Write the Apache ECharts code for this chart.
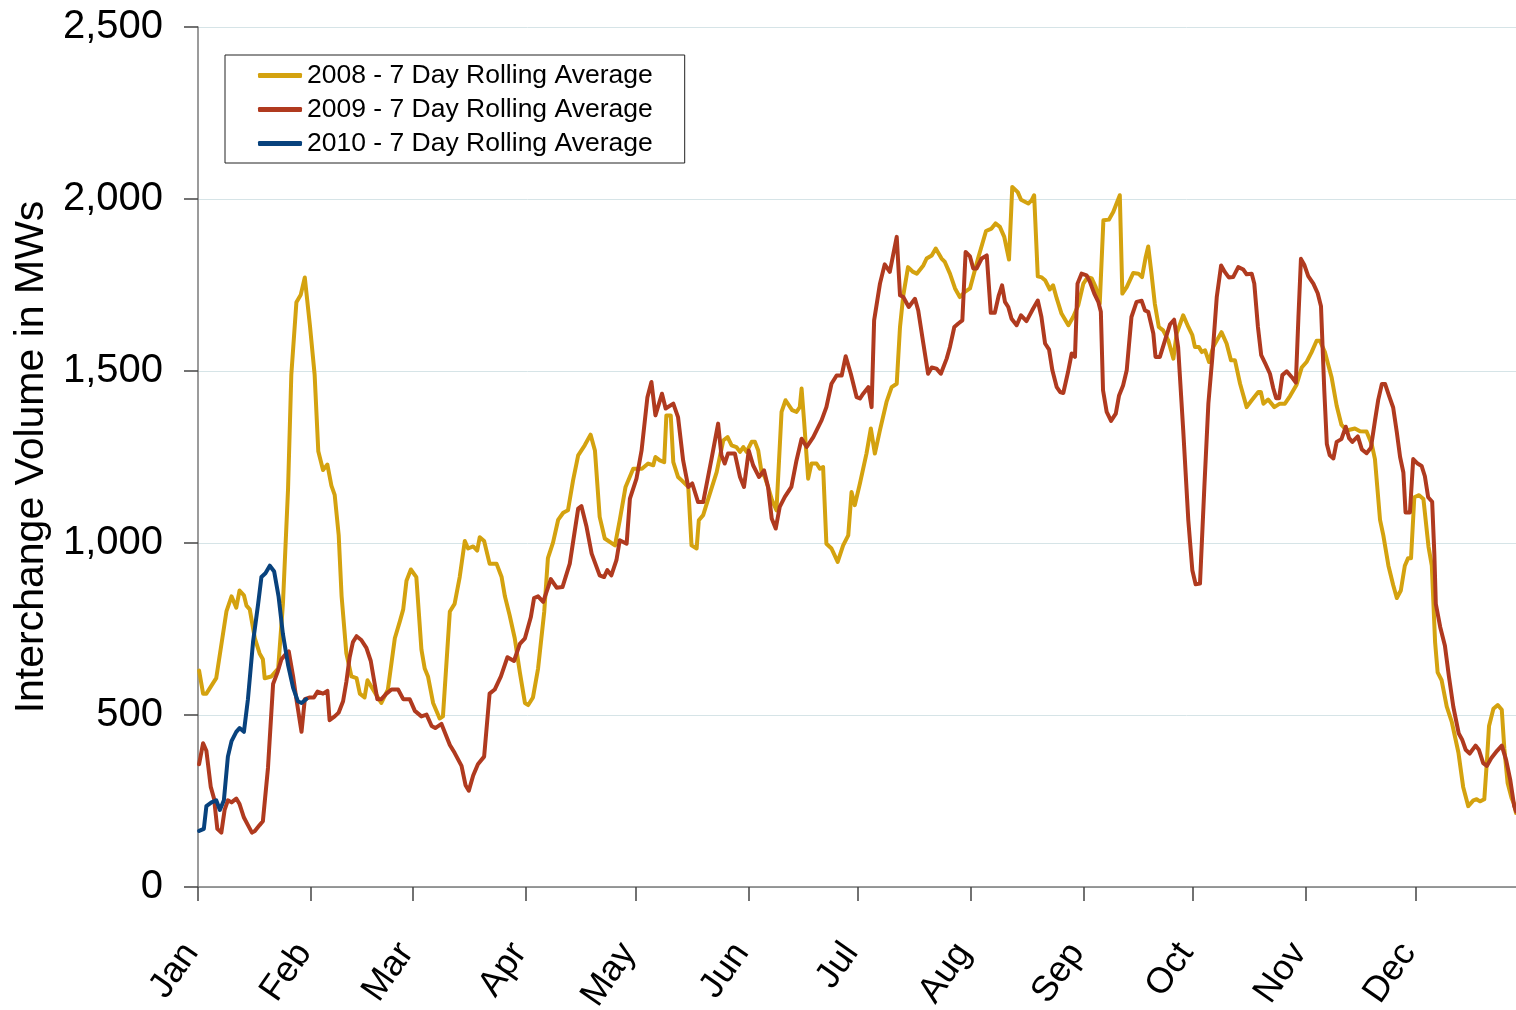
<!DOCTYPE html>
<html>
<head>
<meta charset="utf-8" />
<title>Interchange Volume</title>
<script src="https://cdn.jsdelivr.net/npm/echarts@6/dist/echarts.min.js"></script>
<style>
  html, body { margin: 0; padding: 0; background: #fff; }
  #chart { width: 1516px; height: 1010px; }
</style>
</head>
<body>
<div id="chart"></div>
<script>
// month labels and the day of year each month starts on
var months = ['Jan','Feb','Mar','Apr','May','Jun','Jul','Aug','Sep','Oct','Nov','Dec'];
var monthStart = [0, 31, 59, 90, 120, 151, 181, 212, 243, 273, 304, 334];
var yTicks = [0, 500, 1000, 1500, 2000, 2500];

// 2008 - day of year / MW
var days2008 = [0.3,1.4,2.3,5,7.8,9.2,10.5,11.4,12.6,13.3,14.2,15.6,16.9,17.8,18.3,20.1,22,23.3,24.7,25.6,27,28.2,29.3,30.7,32,33,34.3,35.5,36.6,37.5,38.6,39.4,40.7,42.1,43.5,44.4,45.7,46.5,47.4,49,50.3,52.1,54,55.4,56.3,57.2,58.4,59.9,61.3,62.2,63.1,64.5,66.3,67.2,69.1,70.4,71.8,73.2,74.1,75.5,76.6,77.3,78.5,80,81.9,83.3,84.2,85.5,86.9,88.3,89.7,90.6,91.9,93.3,95,96,97.4,98.8,100.2,101.5,102.9,104.3,106.1,107.7,108.9,110.2,111.6,114.4,115.7,117.3,119.4,121.8,123.5,124.9,125.5,126.7,127.9,128.5,129.7,130.4,131.7,132.7,134.5,135.4,136.8,137.4,138.6,140,142.3,144.1,145.3,146.4,147.7,148.7,149.6,150.5,151.9,152.8,153.7,154.6,155.5,156.4,157.5,158.7,160.1,161.2,163,164.2,165.1,165.6,166.3,167.4,168.3,169.7,170.6,171.5,172.4,173.8,175.5,177,178.4,179.3,180.2,181.6,183.4,184.6,185.7,187.1,188.9,190.3,191.7,192.6,193.5,194.8,196.2,197.2,199,199.9,201.3,202.4,204,204.9,206.3,207.7,209,210.4,211.8,214,216.2,217.7,218.8,220,221.2,222.5,223.4,224.9,225.8,227.8,228.7,229.4,230.4,231.5,232.4,233.7,234.6,235.6,236.9,238.8,240.1,241.5,242.9,244.1,245.2,246.3,247.4,248.4,249.9,251.1,252.9,253.6,254.8,256.6,258,259,260,260.7,261.6,262.5,263.6,264.8,266.2,267.6,268.5,270.3,271.7,272.8,273.5,274.6,275.4,276.3,277.4,278.5,280.8,282.2,283.4,284.5,285.9,287.7,289.1,290.9,291.6,292.3,293.6,295.3,296.8,298.2,299.6,301.4,302.8,304.2,305.5,306.9,307.8,309.2,311,312.4,313.7,315.1,317.4,318.8,320.6,322,322.9,324.3,325.2,326.6,327.9,328.9,330,331.1,332,332.8,333.7,335,336.2,337.6,338.5,339.4,340.1,341.2,342.6,344,345.8,347.1,348.5,349.9,350.8,351.7,352.9,353.6,354.2,355.4,356.6,357.7,358.4,359.3,360.4,361.1,361.6];
var mw2008 = [629,562,562,607,801,845,812,862,848,818,807,723,679,662,607,612,635,823,1156,1489,1700,1722,1772,1633,1489,1267,1212,1228,1167,1140,1023,845,679,612,607,562,551,601,585,557,535,574,723,773,807,890,923,901,690,635,612,535,490,496,801,823,901,1006,984,990,978,1017,1006,940,940,901,845,790,723,624,535,529,551,635,801,956,1001,1067,1088,1095,1182,1255,1284,1315,1269,1076,1013,993,1066,1163,1216,1216,1231,1226,1250,1240,1235,1371,1371,1235,1192,1182,1163,993,984,1066,1081,1129,1206,1298,1308,1284,1279,1265,1279,1265,1294,1294,1269,1206,1192,1163,1124,1095,1381,1415,1386,1381,1395,1449,1352,1187,1231,1231,1216,1221,998,984,945,993,1022,1148,1110,1173,1260,1333,1260,1328,1410,1453,1463,1628,1720,1802,1788,1783,1807,1827,1836,1856,1827,1817,1783,1740,1715,1730,1740,1827,1907,1914,1929,1919,1890,1824,2035,2020,1998,1987,1996,2011,1775,1772,1764,1737,1749,1711,1667,1633,1657,1691,1754,1773,1769,1744,1696,1938,1940,1962,2011,1725,1744,1785,1783,1773,1831,1862,1783,1696,1628,1618,1589,1536,1609,1662,1628,1604,1570,1570,1555,1560,1526,1570,1613,1580,1531,1531,1463,1395,1415,1439,1439,1405,1417,1395,1405,1405,1427,1460,1510,1527,1554,1588,1588,1554,1482,1399,1344,1327,1333,1325,1324,1288,1244,1067,1022,934,878,840,862,934,956,956,1133,1139,1128,989,934,712,624,601,524,479,391,291,235,252,255,249,255,363,468,518,529,515,402,302,258,241,215];

// 2009
var days2009 = [0.3,1.4,2.3,3.5,4.4,5.3,6.4,7.3,8.2,9.2,10.5,11.4,12.6,13.7,14.8,15.6,16.9,17.8,19.2,20.6,21.8,22.9,23.8,24.9,26.1,27,28.4,29.3,30.7,31.8,32.8,34.3,35.5,36.1,37.5,38.6,39.8,40.7,41.6,42.5,43.5,44.8,46.2,47.4,48.3,49.2,50.3,51.7,53.1,54.9,56.3,58.1,59.5,61.3,62.7,64.1,65.1,66.8,69.1,70.4,72.3,73.4,74.3,75.5,76.8,78.5,80,81.4,83.1,84.9,86.7,88.3,89.7,91.3,92.2,93.3,94.7,96.8,98.4,100,102,104.3,105.2,106.6,108,110.2,111.4,112.3,113.4,114.8,115.7,117.6,118.5,120.3,121.7,123.3,124.4,125.5,127.3,128.3,130.4,131.7,133.1,134.5,135.6,137.2,138.6,140.9,142.7,143.6,144.5,145.4,147.3,148.7,149.8,151.1,152.3,153.9,155.3,156.4,157.4,158.5,159.6,161,162.8,164.2,165.6,167,168.8,171.1,172.4,173.8,175.2,176.6,177.7,179.1,180.7,181.6,182.5,183.9,184.8,185.5,187.1,188.4,189.8,191.7,192.6,193.5,195,196.7,197.6,199,200.3,201.3,202.6,203.8,205.4,206.3,207.5,208.6,209.7,210.6,211.8,212.7,213.6,215,216.4,217.5,218.6,219.7,220.6,221.4,222.3,223.2,224.6,225.8,227.3,229.1,230.4,231.4,232.4,233.5,234.4,235.6,236.5,237.4,238.7,239.7,240.6,241.3,242.4,243.8,244.7,245.9,247,247.7,248.3,249.3,250.5,251.8,252.7,253.8,254.8,256.1,257.5,258.9,259.8,260.7,262.1,262.7,263.9,265.3,266.7,267.8,268.9,270.3,271.7,272.8,273.7,274.9,276.1,277.2,278.3,279.5,280.7,281.7,282.8,284,285.4,286.8,287.7,289.1,289.8,290.8,291.7,292.8,294.1,295,295.8,296.6,297.5,298.7,300.1,301.2,301.9,302.6,303.5,304.6,306,307.2,308.1,309,309.7,310.5,311.5,312.4,313.7,314.9,315.8,316.7,318.2,319.3,320.6,321.8,322.9,323.8,324.8,325.7,326.8,327.9,328.9,329.8,330.7,331.3,332.5,333.4,334.6,335.7,336.6,337.5,338.6,339.2,339.6,340.8,342.1,343.2,344.4,345.9,346.8,347.8,348.9,350.5,351.4,352.6,353.6,354.8,356.4,357.7,358.9,360,361.1,361.6];
var mw2009 = [357,418,396,291,257,169,158,224,252,246,257,241,202,180,158,163,180,191,346,590,624,662,674,685,612,546,451,546,551,551,568,562,570,485,496,507,540,596,668,712,729,718,695,657,601,546,546,562,574,574,546,546,512,496,501,468,462,474,413,390,352,296,280,324,357,379,562,574,612,668,657,707,723,784,840,845,829,895,870,872,940,1100,1107,1047,969,906,901,921,906,950,1008,998,1129,1187,1269,1424,1468,1371,1434,1391,1405,1366,1240,1163,1173,1119,1119,1245,1347,1255,1231,1260,1260,1192,1163,1269,1226,1192,1211,1163,1071,1042,1105,1134,1163,1240,1303,1279,1308,1357,1395,1463,1487,1487,1543,1492,1424,1420,1434,1453,1395,1647,1754,1810,1788,1890,1720,1715,1686,1710,1676,1580,1492,1510,1507,1492,1536,1570,1628,1638,1647,1846,1833,1798,1798,1827,1836,1669,1669,1720,1749,1701,1686,1652,1633,1662,1645,1681,1705,1657,1580,1562,1502,1453,1439,1436,1497,1551,1541,1754,1783,1778,1759,1725,1701,1672,1444,1381,1355,1376,1429,1458,1502,1657,1701,1704,1676,1672,1609,1541,1541,1589,1636,1649,1570,1328,1066,921,880,882,1163,1405,1541,1715,1807,1788,1772,1773,1802,1795,1781,1783,1754,1628,1546,1522,1492,1450,1421,1421,1488,1499,1482,1466,1654,1826,1809,1776,1754,1726,1688,1444,1288,1255,1246,1294,1302,1338,1305,1294,1310,1272,1261,1277,1355,1416,1462,1462,1427,1394,1322,1250,1205,1089,1089,1244,1231,1224,1194,1133,1120,967,823,756,701,612,524,446,429,399,388,411,399,360,352,374,396,411,369,313,235,220];

// 2010 (January only)
var days2010 = [0.3,1.6,2.3,3.7,5,6,7.1,8.2,9.2,10.5,11.4,12.6,13.7,15.1,16.5,17.4,18.5,19.7,20.9,22.1,23.3,24.7,26.1,27.4,28.4,29.7];
var mw2010 = [163,169,235,246,252,224,252,379,424,451,462,451,546,712,823,901,912,934,917,845,735,646,579,540,535,546];

function pairs(d, v) {
  return d.map(function (x, i) { return [x, v[i]]; });
}

var font = 'Liberation Sans, Arial, Helvetica, sans-serif';
var chart = echarts.init(document.getElementById('chart'));

function lineSeries(name, data, color) {
  return {
    name: name,
    type: 'line',
    data: data,
    symbol: 'none',
    clip: true,
    lineStyle: { color: color, width: 4, cap: 'round', join: 'round' },
    itemStyle: { color: color }
  };
}

option = {
  animation: false,
  backgroundColor: '#fff',
  textStyle: { fontFamily: font },
  grid: { left: 198, right: 0, top: 27, bottom: 123, outerBoundsMode: 'none' },
  legend: {
    orient: 'vertical',
    left: 225,
    top: 55,
    padding: [7, 32, 6, 33],
    itemGap: 7,
    itemWidth: 44,
    itemHeight: 5,
    icon: 'roundRect',
    borderColor: '#222',
    borderWidth: 1,
    backgroundColor: '#fff',
    textStyle: { fontFamily: font, fontSize: 26.5, lineHeight: 27, color: '#000' },
    data: ['2008 - 7 Day Rolling Average', '2009 - 7 Day Rolling Average', '2010 - 7 Day Rolling Average']
  },
  xAxis: {
    type: 'value',
    min: 0,
    max: 361.6,
    splitLine: { show: false },
    axisLine: { show: true, lineStyle: { color: '#7a7a7a', width: 1.5 } },
    axisTick: { show: true, length: 14, customValues: monthStart, lineStyle: { color: '#444', width: 1.5 } },
    axisLabel: {
      customValues: monthStart,
      rotate: 55,
      margin: 50,
      padding: [0, 12, 0, 0],
      fontSize: 36,
      color: '#000',
      fontFamily: font,
      formatter: function (v) { return months[monthStart.indexOf(v)]; }
    }
  },
  yAxis: {
    type: 'value',
    min: yTicks[0],
    max: yTicks[yTicks.length - 1],
    interval: 500,
    name: 'Interchange Volume in MWs',
    nameLocation: 'middle',
    nameGap: 145,
    nameTextStyle: { fontSize: 41, color: '#000', fontFamily: font },
    splitLine: { show: true, lineStyle: { color: '#d6e4e7', width: 1 } },
    axisLine: { show: true, lineStyle: { color: '#7a7a7a', width: 1.5 } },
    axisTick: { show: true, length: 14, lineStyle: { color: '#444', width: 1.5 } },
    axisLabel: {
      margin: 35,
      fontSize: 40,
      color: '#000',
      fontFamily: font,
      formatter: function (v) { return v.toLocaleString('en-US'); }
    }
  },
  series: [
    lineSeries('2008 - 7 Day Rolling Average', pairs(days2008, mw2008), '#d4a20f'),
    lineSeries('2009 - 7 Day Rolling Average', pairs(days2009, mw2009), '#b03a1f'),
    lineSeries('2010 - 7 Day Rolling Average', pairs(days2010, mw2010), '#08427d')
  ]
};
chart.setOption(option);
</script>
</body>
</html>
